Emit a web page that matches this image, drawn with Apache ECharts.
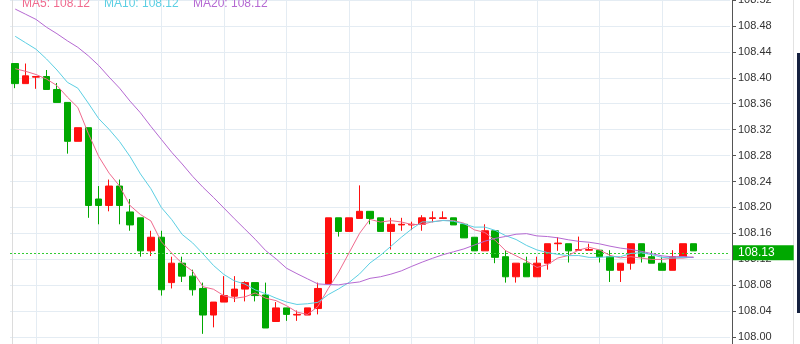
<!DOCTYPE html>
<html><head><meta charset="utf-8">
<script src="https://cdn.jsdelivr.net/npm/echarts@6/dist/echarts.min.js"></script>
<style>html,body{margin:0;padding:0;background:#fff;overflow:hidden}#c{width:800px;height:344px}</style>
</head><body><div id="c"></div>
<script>
// ---- data ----
const categories = Array.from({length: 69}, (_, i) => String(i + 1));
const opens  = [108.422,108.391,108.401,108.402,108.382,108.362,108.302,108.323,108.213,108.203,108.233,108.193,108.184,108.133,108.154,108.084,108.114,108.094,108.075,108.034,108.054,108.063,108.074,108.084,108.065,108.024,108.045,108.034,108.034,108.044,108.082,108.184,108.163,108.183,108.194,108.184,108.163,108.173,108.173,108.174,108.183,108.183,108.184,108.174,108.154,108.133,108.164,108.124,108.093,108.114,108.093,108.114,108.144,108.144,108.134,108.134,108.134,108.124,108.103,108.114,108.144,108.124,108.114,108.103,108.124,108.144];
const closes = [108.391,108.403,108.402,108.382,108.362,108.302,108.323,108.203,108.203,108.233,108.203,108.173,108.133,108.154,108.073,108.114,108.094,108.073,108.034,108.054,108.064,108.074,108.084,108.064,108.014,108.045,108.035,108.035,108.045,108.075,108.184,108.163,108.184,108.194,108.183,108.163,108.174,108.174,108.174,108.184,108.184,108.184,108.173,108.153,108.133,108.164,108.123,108.093,108.114,108.093,108.114,108.144,108.145,108.133,108.135,108.135,108.124,108.103,108.114,108.144,108.124,108.114,108.103,108.124,108.144,108.133];
const lows   = [108.384,108.391,108.383,108.382,108.362,108.283,108.302,108.184,108.174,108.194,108.174,108.164,108.124,108.125,108.064,108.075,108.085,108.064,108.005,108.015,108.054,108.054,108.055,108.055,108.014,108.024,108.025,108.025,108.034,108.035,108.082,108.155,108.163,108.183,108.174,108.163,108.135,108.164,108.165,108.164,108.177,108.183,108.173,108.153,108.133,108.133,108.114,108.084,108.084,108.093,108.093,108.104,108.133,108.115,108.134,108.134,108.115,108.085,108.085,108.104,108.115,108.114,108.103,108.103,108.124,108.133];
const highs  = [108.422,108.422,108.402,108.412,108.392,108.362,108.323,108.323,108.233,108.243,108.243,108.213,108.184,108.164,108.164,108.124,108.124,108.104,108.084,108.054,108.094,108.094,108.086,108.084,108.084,108.054,108.045,108.041,108.045,108.084,108.184,108.184,108.184,108.234,108.194,108.184,108.184,108.184,108.178,108.188,108.194,108.194,108.184,108.174,108.154,108.174,108.164,108.134,108.114,108.124,108.124,108.144,108.154,108.144,108.155,108.144,108.134,108.134,108.114,108.144,108.144,108.133,108.124,108.134,108.144,108.144];
const ma5  = [108.414,108.410,108.405,108.398,108.388,108.3702,108.3542,108.3144,108.2786,108.2528,108.233,108.203,108.189,108.1792,108.1472,108.1294,108.1136,108.1016,108.0776,108.0738,108.0638,108.0598,108.062,108.068,108.060,108.0562,108.0484,108.0386,108.0348,108.047,108.0748,108.1004,108.1302,108.160,108.1816,108.1774,108.1796,108.1776,108.1736,108.1738,108.178,108.180,108.1798,108.1756,108.1654,108.1614,108.1492,108.1332,108.1254,108.1174,108.1074,108.1116,108.122,108.1258,108.1342,108.1384,108.1344,108.126,108.1222,108.124,108.1218,108.1198,108.1198,108.1218,108.1218,108.1236];
const ma10 = [108.464,108.454,108.444,108.429,108.412,108.393,108.384,108.361,108.337,108.3204,108.3016,108.2786,108.2517,108.2289,108.200,108.1812,108.1583,108.1453,108.1284,108.1105,108.0966,108.0867,108.0818,108.0728,108.0669,108.060,108.0541,108.0503,108.0514,108.0535,108.0655,108.0744,108.0844,108.0974,108.1143,108.1261,108.140,108.1539,108.1668,108.1777,108.1777,108.1798,108.1787,108.1746,108.1696,108.1697,108.1646,108.1565,108.1505,108.1414,108.1344,108.1304,108.1276,108.1256,108.1258,108.1229,108.123,108.124,108.124,108.1291,108.1301,108.1271,108.1229,108.122,108.1229,108.1227];
const ma20 = [108.506,108.498,108.490,108.478,108.468,108.457,108.447,108.434,108.419,108.401,108.384,108.364,108.346,108.325,108.305,108.285,108.267,108.248,108.231,108.21545,108.1991,108.18265,108.16675,108.15085,108.13345,108.1206,108.1062,108.0978,108.0899,108.082,108.08105,108.08055,108.0831,108.0851,108.0906,108.09305,108.09705,108.1021,108.1091,108.1156,108.1216,108.1271,108.13155,108.136,108.14195,108.1479,108.1523,108.1552,108.15865,108.15955,108.15605,108.1551,108.15315,108.1501,108.1477,108.1463,108.1438,108.14025,108.13725,108.13525,108.13225,108.12875,108.12525,108.1238,108.12435,108.1228];
const yMin = 107.96, yMax = 108.52, yStep = 0.04;

// ---- chart ----
const ohlc = opens.map((o, i) => [o, closes[i], lows[i], highs[i]]);
const lastClose = closes[closes.length - 1];
const FONT = '"Liberation Sans", Arial, sans-serif';
const chart = echarts.init(document.getElementById('c'), null, {renderer: 'canvas'});
chart.setOption({
  animation: false,
  backgroundColor: '#ffffff',
  grid: {left: 10, right: 70, top: 0, bottom: -19, containLabel: false, outerBoundsMode: 'none'},
  xAxis: {
    type: 'category', data: categories, boundaryGap: true,
    axisLine: {show: false}, axisTick: {show: false}, axisLabel: {show: false},
    splitLine: {show: true, alignWithLabel: true,
      interval: (i) => i >= 2 && i <= 62 && (i - 2) % 6 === 0,
      lineStyle: {color: '#e4ecf3', width: 1}}
  },
  yAxis: {
    type: 'value', position: 'right', offset: 2, scale: true,
    min: yMin, max: yMax, interval: yStep,
    axisLine: {show: true, lineStyle: {color: '#555', width: 1}},
    axisTick: {show: true, length: 4, lineStyle: {color: '#555'}},
    axisLabel: {color: '#333', fontSize: 11, fontFamily: FONT, margin: 6,
      formatter: (v) => v.toFixed(2)},
    splitLine: {show: true, lineStyle: {color: '#e4ecf3', width: 1}}
  },
  series: [
    {
      type: 'candlestick', data: ohlc, barWidth: 7,
      itemStyle: {color: '#ff0f0f', color0: '#00a800', borderColor: '#ff0f0f', borderColor0: '#00a800', borderWidth: 1},
      markLine: {
        silent: true, symbol: ['none', 'none'], animation: false,
        data: [{yAxis: lastClose}],
        lineStyle: {type: [2, 2], color: '#33cc33', width: 1},
        label: {position: 'end', distance: 3, formatter: () => lastClose.toFixed(2),
          backgroundColor: '#00a800', color: '#fff', fontSize: 12, fontFamily: FONT,
          padding: [2, 19, 1, 5]}
      }
    },
    {type: 'line', name: 'MA5', data: ma5, showSymbol: false, symbol: 'none', z: 5,
      lineStyle: {color: '#f06a8e', width: 1}},
    {type: 'line', name: 'MA10', data: ma10, showSymbol: false, symbol: 'none', z: 5,
      lineStyle: {color: '#5ccfe3', width: 1}},
    {type: 'line', name: 'MA20', data: ma20, showSymbol: false, symbol: 'none', z: 5,
      lineStyle: {color: '#b569d2', width: 1}}
  ],
  graphic: [
    {type: 'line', shape: {x1: 12.5, y1: 0, x2: 12.5, y2: 344}, style: {stroke: '#dcdcdc', lineWidth: 1}, z: 1},
    {type: 'line', shape: {x1: 793.5, y1: 0, x2: 793.5, y2: 344}, style: {stroke: '#e2e2e2', lineWidth: 1}, z: 1},
    {type: 'rect', shape: {x: 797, y: 53, width: 3, height: 260}, style: {fill: '#16213f'}, z: 1},
    {type: 'text', x: 22, y: 4, z: 10, style: {text: 'MA5: ' + ma5[ma5.length - 1].toFixed(2), fill: '#f06a8e', font: '12px ' + FONT, verticalAlign: 'middle'}},
    {type: 'text', x: 104, y: 4, z: 10, style: {text: 'MA10: ' + ma10[ma10.length - 1].toFixed(2), fill: '#5ccfe3', font: '12px ' + FONT, verticalAlign: 'middle'}},
    {type: 'text', x: 193, y: 4, z: 10, style: {text: 'MA20: ' + ma20[ma20.length - 1].toFixed(2), fill: '#b569d2', font: '12px ' + FONT, verticalAlign: 'middle'}}
  ]
});
</script>
</body></html>
